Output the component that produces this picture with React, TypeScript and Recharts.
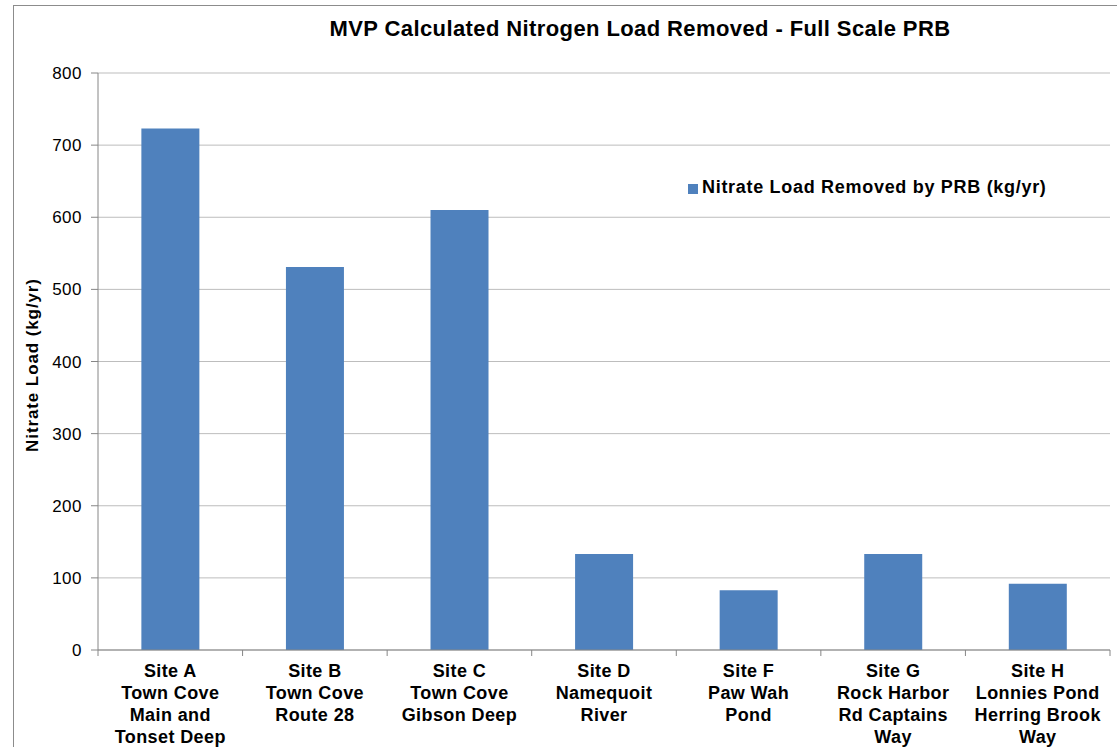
import { Bar, BarChart, CartesianGrid, Label, Legend, XAxis, YAxis } from "recharts";

const sites = [
  "Site A\nTown Cove\nMain and\nTonset Deep",
  "Site B\nTown Cove\nRoute 28",
  "Site C\nTown Cove\nGibson Deep",
  "Site D\nNamequoit\nRiver",
  "Site F\nPaw Wah\nPond",
  "Site G\nRock Harbor\nRd Captains\nWay",
  "Site H\nLonnies Pond\nHerring Brook\nWay",
];
const nitrateRemoved = [723, 531, 610, 133, 83, 133, 92];
const yTicks = [0, 100, 200, 300, 400, 500, 600, 700, 800];

const data = sites.map((site, i) => ({ site, removed: nitrateRemoved[i] }));

const FONT = '"Liberation Sans", Arial, sans-serif';
const AXIS_GRAY = "#868686";

// category label plus the small tick marks at the band edges
function SiteTick(props: any) {
  const { x, y, payload, index, visibleTicksCount } = props;
  const lines = String(payload.value).split("\n");
  const half = payload.offset ?? 0;
  const axisY = y - 8;
  return (
    <g>
      {half > 0 && (
        <line x1={x - half} x2={x - half} y1={axisY} y2={axisY + 6} stroke={AXIS_GRAY} />
      )}
      {half > 0 && index === visibleTicksCount - 1 && (
        <line x1={x + half} x2={x + half} y1={axisY} y2={axisY + 6} stroke={AXIS_GRAY} />
      )}
      <text
        x={x}
        y={y + 4}
        textAnchor="middle"
        fontFamily={FONT}
        fontWeight="bold"
        fontSize={18}
        letterSpacing={0.4}
        fill="#000"
      >
        {lines.map((line, i) => (
          <tspan key={i} x={x} dy={i === 0 ? 15 : 22}>
            {line}
          </tspan>
        ))}
      </text>
    </g>
  );
}

export default function App() {
  return (
    <div
      style={{
        position: "absolute",
        left: 0,
        top: 0,
        width: 1117,
        height: 747,
        overflow: "hidden",
        background: "#fff",
        fontFamily: FONT,
      }}
    >
      <div
        style={{
          position: "absolute",
          left: 13,
          top: 5,
          width: 1200,
          height: 800,
          border: "1px solid #8c8c8c",
        }}
      />
      <div
        style={{
          position: "absolute",
          left: 0,
          top: 16,
          width: 1280,
          textAlign: "center",
          fontWeight: "bold",
          fontSize: 22,
          letterSpacing: 0.4,
          color: "#000",
        }}
      >
        MVP Calculated Nitrogen Load Removed - Full Scale PRB
      </div>
      <div style={{ position: "absolute", left: 0, top: 0 }}>
        <BarChart
          width={1117}
          height={747}
          data={data}
          margin={{ top: 73, right: 7, bottom: 0, left: 0 }}
          barCategoryGap="30%"
        >
          <CartesianGrid vertical={false} stroke="#bdbdbd" />
          <XAxis
            dataKey="site"
            interval={0}
            tick={<SiteTick />}
            tickLine={false}
            axisLine={{ stroke: AXIS_GRAY }}
            height={97}
          />
          <YAxis
            domain={[0, 800]}
            ticks={yTicks}
            width={98}
            tickSize={7}
            tickMargin={9}
            tick={{ fontSize: 17, fill: "#000", fontFamily: FONT, letterSpacing: 0.5 }}
            tickLine={{ stroke: AXIS_GRAY }}
            axisLine={{ stroke: AXIS_GRAY }}
          >
            <Label
              content={() => (
                <text
                  x={32}
                  y={365}
                  transform="rotate(-90 32 365)"
                  textAnchor="middle"
                  dominantBaseline="central"
                  fontFamily={FONT}
                  fontWeight="bold"
                  fontSize={17}
                  letterSpacing={0.9}
                  fill="#000"
                >
                  Nitrate Load (kg/yr)
                </text>
              )}
            />
          </YAxis>
          <Legend
            layout="vertical"
            verticalAlign="middle"
            align="center"
            iconType="square"
            iconSize={10}
            wrapperStyle={{ top: 177, left: 688, width: 420 }}
            formatter={(value) => (
              <span
                style={{
                  color: "#000",
                  fontWeight: "bold",
                  fontSize: 18,
                  letterSpacing: 0.7,
                  fontFamily: FONT,
                }}
              >
                {value}
              </span>
            )}
          />
          <Bar
            dataKey="removed"
            name="Nitrate Load Removed by PRB (kg/yr)"
            fill="#4f81bd"
            isAnimationActive={false}
          />
        </BarChart>
      </div>
    </div>
  );
}
